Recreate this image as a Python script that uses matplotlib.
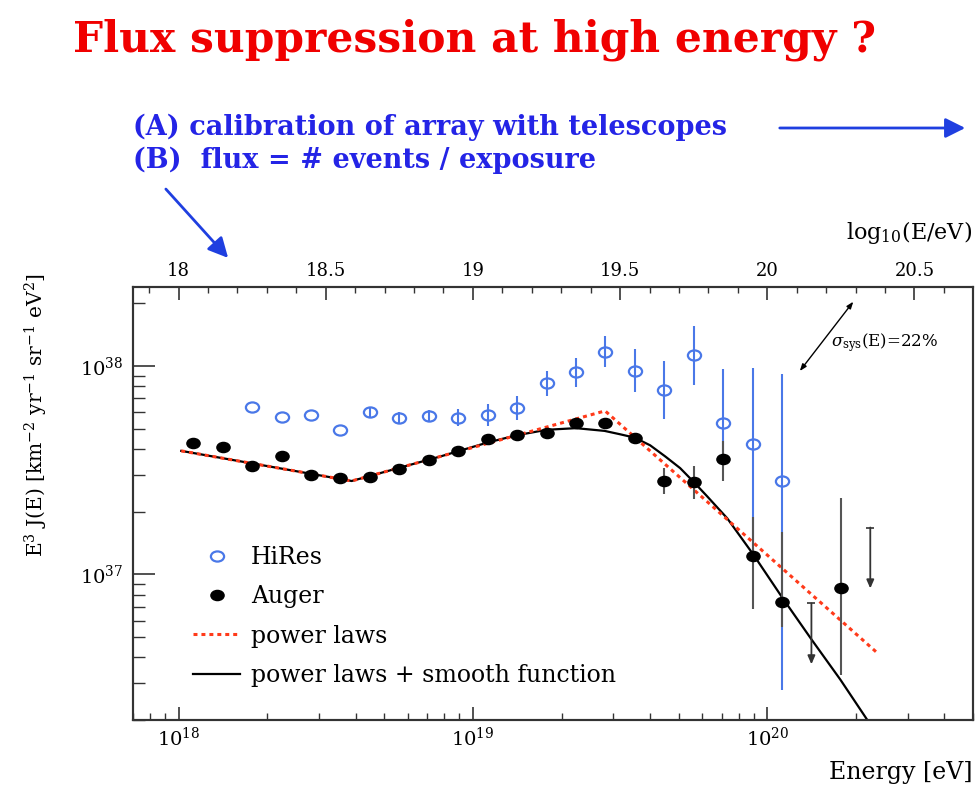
import numpy as np
import matplotlib
matplotlib.use('Agg')
import matplotlib.pyplot as plt
from matplotlib.ticker import MultipleLocator, NullFormatter, FormatStrFormatter, LogLocator
from matplotlib.path import Path
from matplotlib.transforms import Affine2D
from matplotlib.lines import Line2D

plt.rcParams['font.family'] = 'DejaVu Serif'
plt.rcParams['mathtext.fontset'] = 'dejavuserif'

# Auger spectrum, log10(E/eV) bin centres and E^3 J(E) in units of 1e37 km^-2 yr^-1 sr^-1 eV^2
auger_lgE = [18.05, 18.15, 18.25, 18.35, 18.45, 18.55, 18.65, 18.75, 18.85, 18.95, 19.05,
             19.15, 19.25, 19.35, 19.45, 19.55, 19.65, 19.75, 19.85, 19.95, 20.05, 20.25]
auger_flux = [4.30, 4.08, 3.30, 3.69, 3.00, 2.90, 2.95, 3.20, 3.53, 3.90, 4.46,
              4.66, 4.76, 5.33, 5.31, 4.54, 2.80, 2.79, 3.60, 1.22, 0.74, 0.86]
auger_lo = [4.30, 4.08, 3.30, 3.69, 3.00, 2.90, 2.95, 3.20, 3.53, 3.90, 4.46,
            4.66, 4.76, 5.33, 5.31, 4.54, 2.43, 2.30, 2.80, 0.68, 0.56, 0.33]
auger_hi = [4.30, 4.08, 3.30, 3.69, 3.00, 2.90, 2.95, 3.20, 3.53, 3.90, 4.46,
            4.66, 4.76, 5.33, 5.31, 4.54, 3.24, 3.30, 4.36, 1.88, 1.59, 2.34]
# Auger upper limits
auger_ul_lgE = [20.15, 20.35]
auger_ul = [0.726, 1.68]

# HiRes spectrum
hires_lgE = [18.25, 18.35, 18.45, 18.55, 18.65, 18.75, 18.85, 18.95, 19.05, 19.15,
             19.25, 19.35, 19.45, 19.55, 19.65, 19.75, 19.85, 19.95, 20.05]
hires_flux = [6.40, 5.73, 5.85, 4.94, 6.00, 5.61, 5.75, 5.61, 5.86, 6.31,
              8.28, 9.33, 11.72, 9.53, 7.71, 11.30, 5.36, 4.25, 2.81]
hires_lo = [6.40, 5.73, 5.85, 4.94, 5.66, 5.25, 5.40, 5.15, 5.15, 5.50,
            7.18, 7.93, 9.89, 7.50, 5.56, 8.11, 3.40, 1.20, 0.28]
hires_hi = [6.40, 5.73, 5.85, 4.94, 6.35, 6.03, 6.15, 6.21, 6.56, 7.18,
            9.46, 10.9, 13.9, 12.1, 10.6, 15.6, 9.68, 9.77, 9.16]

# broken power law fit (vertices in log-log)
plaw_lgE = [18.009, 18.588, 19.449, 20.373]
plaw_flux = [3.92, 2.81, 6.10, 0.421]

# power laws + smooth suppression function
smooth_lgE = [18.009, 18.588, 18.888, 19.05, 19.149, 19.251, 19.35, 19.447, 19.5, 19.549,
              19.602, 19.653, 19.704, 19.748, 19.796, 19.864, 19.952, 20.051, 20.15,
              20.248, 20.33, 20.384]
smooth_flux = [3.92, 2.81, 3.68, 4.30, 4.66, 4.95, 5.04, 4.89, 4.71, 4.54,
               4.17, 3.69, 3.24, 2.80, 2.37, 1.86, 1.25, 0.774, 0.488,
               0.313, 0.210, 0.161]

UNIT = 1e37
HIRES_BLUE = '#4a78e8'
FIT_RED = '#ff3a1a'
TEXT_BLUE = '#2424e6'
UL_DROP = 0.51

def to_E(lg):
    return 10 ** np.asarray(lg, dtype=float)

def to_J(v):
    return np.asarray(v, dtype=float) * UNIT

ellipse = Path.unit_circle().transformed(Affine2D().scale(1.3, 1.0))

fig = plt.figure(figsize=(9.8, 7.91), dpi=100)
ax = fig.add_axes([133 / 980, 71 / 791, 840 / 980, 433 / 791])
ax.set_xscale('log')
ax.set_yscale('log')
ax.set_xlim(7e17, 5e20)
ax.set_ylim(2e36, 2.4e38)

# HiRes
hE, hJ = to_E(hires_lgE), to_J(hires_flux)
ax.errorbar(hE, hJ, yerr=[hJ - to_J(hires_lo), to_J(hires_hi) - hJ], fmt='none',
            ecolor=HIRES_BLUE, elinewidth=1.5, capsize=0, zorder=2)
ax.plot(hE, hJ, ls='none', marker=ellipse, ms=9.5, mfc='none', mec=HIRES_BLUE,
        mew=1.6, zorder=3)

# fits
ax.plot(to_E(smooth_lgE), to_J(smooth_flux), color='black', lw=1.6, zorder=4)
ax.plot(to_E(plaw_lgE), to_J(plaw_flux), color=FIT_RED, lw=2.2,
        ls=(0, (1.3, 1.3)), zorder=5)

# Auger
aE, aJ = to_E(auger_lgE), to_J(auger_flux)
ax.errorbar(aE, aJ, yerr=[aJ - to_J(auger_lo), to_J(auger_hi) - aJ], fmt='none',
            ecolor='#555555', elinewidth=1.5, capsize=0, zorder=6)
ax.plot(aE, aJ, ls='none', marker=ellipse, ms=9.5, color='black', zorder=7)
for lg, ul in zip(auger_ul_lgE, auger_ul):
    E, J = to_E(lg), ul * UNIT
    ax.annotate('', xy=(E, J * UL_DROP), xytext=(E, J),
                arrowprops=dict(arrowstyle='-|>,head_length=0.5,head_width=0.22',
                                color='#333333', lw=1.3, shrinkA=0, shrinkB=0), zorder=6)
    ax.plot(E, J, marker='_', ms=6, mew=1.2, color='#333333', zorder=6)

# systematic energy scale arrow
ax.annotate('', xy=(1.96e20, 2.04e38), xytext=(1.29e20, 9.48e37),
            arrowprops=dict(arrowstyle='<|-|>,head_length=0.4,head_width=0.15',
                            color='black', lw=1.0, shrinkA=0, shrinkB=0))
ax.text(1.64e20, 1.30e38, r'$\sigma_{\rm sys}$(E)=22%', fontsize=12,
        ha='left', va='center')

# axes styling
for sp in ax.spines.values():
    sp.set_color('#333333')
    sp.set_linewidth(1.5)
ax.xaxis.set_major_locator(LogLocator(base=10))
ax.xaxis.set_minor_locator(LogLocator(base=10, subs=np.arange(2, 10)))
ax.yaxis.set_minor_locator(LogLocator(base=10, subs=np.arange(2, 10)))
ax.xaxis.set_minor_formatter(NullFormatter())
ax.yaxis.set_minor_formatter(NullFormatter())
ax.tick_params(axis='x', which='major', direction='in', length=9.5, width=1.2,
               labelsize=14, pad=5, colors='#333333', labelcolor='black')
ax.tick_params(axis='x', which='minor', direction='in', length=5, width=1.0, colors='#333333')
ax.tick_params(axis='y', which='major', direction='in', length=16, width=1.2,
               labelsize=14, pad=7, colors='#333333', labelcolor='black')
ax.tick_params(axis='y', which='minor', direction='in', length=8.5, width=1.0, colors='#333333')

ax2 = ax.twiny()
ax2.set_xlim(np.log10(ax.get_xlim()))
ax2.xaxis.set_major_locator(MultipleLocator(0.5))
ax2.xaxis.set_minor_locator(MultipleLocator(0.1))
ax2.xaxis.set_major_formatter(FormatStrFormatter('%g'))
ax2.tick_params(axis='x', which='major', direction='in', length=9.5, width=1.2,
                labelsize=13, pad=5, colors='#333333', labelcolor='black')
ax2.tick_params(axis='x', which='minor', direction='in', length=4.5, width=1.0, colors='#333333')
for sp in ax2.spines.values():
    sp.set_color('#333333')
    sp.set_linewidth(1.5)

# legend
handles = [
    Line2D([], [], ls='none', marker=ellipse, ms=9.5, mfc='none', mec=HIRES_BLUE, mew=1.6),
    Line2D([], [], ls='none', marker=ellipse, ms=9.5, color='black'),
    Line2D([], [], color=FIT_RED, lw=2.2, ls=(0, (1.3, 1.3))),
    Line2D([], [], color='black', lw=1.6),
]
labels = ['HiRes', 'Auger', 'power laws', 'power laws + smooth function']
ax.legend(handles, labels, loc='upper left', bbox_to_anchor=(193 / 980, 1 - 546 / 791),
          bbox_transform=fig.transFigure, frameon=False, fontsize=17, borderpad=0,
          borderaxespad=0, handlelength=2.0, handletextpad=0.45, labelspacing=0.69,
          numpoints=1)

# axis titles
fig.text(972 / 980, 1 - 773 / 791, 'Energy [eV]', fontsize=17, ha='right', va='center')
fig.text(972 / 980, 1 - 232 / 791, r'log$_{10}$(E/eV)', fontsize=16, ha='right', va='center')
fig.text(36 / 980, 1 - 415 / 791,
         r'E$^3$ J(E) [km$^{-2}$ yr$^{-1}$ sr$^{-1}$ eV$^2$]',
         fontsize=14.5, rotation=90, ha='center', va='center')

# slide title and notes
fig.text(474 / 980, 1 - 40 / 791, 'Flux suppression at high energy ?', fontsize=30.5,
         fontweight='bold', color='#f00000', ha='center', va='center')
fig.text(133 / 980, 1 - 127 / 791, '(A) calibration of array with telescopes', fontsize=19.5,
         fontweight='bold', color=TEXT_BLUE, ha='left', va='center')
fig.text(133 / 980, 1 - 160 / 791, '(B)  flux = # events / exposure', fontsize=19.5,
         fontweight='bold', color=TEXT_BLUE, ha='left', va='center')
fig.add_artist(matplotlib.patches.FancyArrowPatch(
    (777 / 980, 1 - 128 / 791), (968 / 980, 1 - 128 / 791), transform=fig.transFigure,
    arrowstyle='-|>,head_length=12,head_width=6', color='#1f3fe0', lw=2, mutation_scale=1))
fig.add_artist(matplotlib.patches.FancyArrowPatch(
    (164 / 980, 1 - 187 / 791), (230 / 980, 1 - 260 / 791), transform=fig.transFigure,
    arrowstyle='-|>,head_length=12,head_width=6', color='#1f3fe0', lw=2, mutation_scale=1))

fig.savefig('out.png', dpi=100)
